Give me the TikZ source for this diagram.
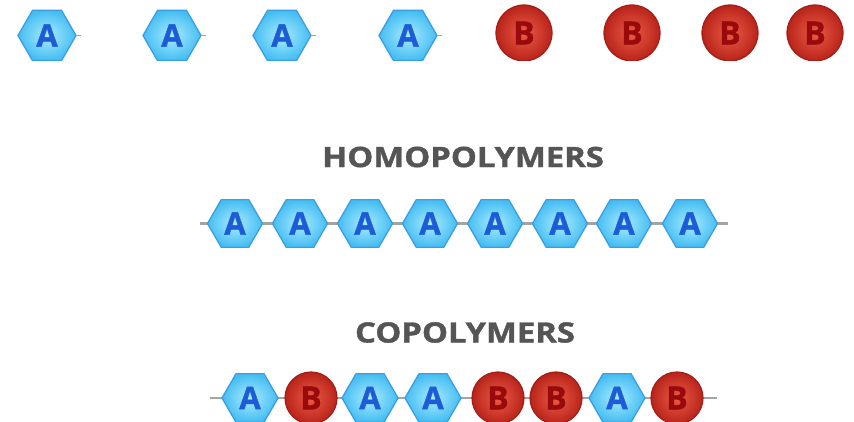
\documentclass[tikz,border=0pt]{standalone}
\usepackage{fontspec}
\setmainfont{Open Sans}
\newfontfamily\heavyfont{Open Sans Bold}[FakeBold=1.2]
\usetikzlibrary{shapes.geometric}

\definecolor{hexedge}{HTML}{3A9EE4}
\definecolor{hexin}{HTML}{A8ECFF}
\definecolor{hexout}{HTML}{45BDF2}
\definecolor{letterA}{HTML}{1D5CD6}
\definecolor{ballin}{HTML}{EE5A44}
\definecolor{ballout}{HTML}{B8241A}
\definecolor{balledge}{HTML}{A31E16}
\definecolor{letterB}{HTML}{980A0C}
\definecolor{bond}{HTML}{A4A4A4}
\definecolor{titlegrey}{HTML}{555555}

\tikzset{
  monoA/.style={regular polygon, regular polygon sides=6, minimum size=#1,
    inner sep=0pt, outer sep=0pt, draw=hexedge, line width=1.3pt,
    shading=radial, inner color=hexin, outer color=hexout,
    text=letterA, font=\heavyfont\fontsize{31}{31}\selectfont},
  monoA/.default=55pt,
  monoB/.style={circle, minimum size=#1, inner sep=0pt, outer sep=0pt,
    draw=balledge, line width=1.2pt,
    shading=radial, inner color=ballin, outer color=ballout,
    text=letterB, font=\heavyfont\fontsize{32}{32}\selectfont},
  monoB/.default=52pt,
  bondline/.style={draw=bond, line width=2.4pt},
  title/.style={text=titlegrey, font=\heavyfont\fontsize{28}{28}\selectfont, inner sep=0pt}
}

\begin{document}
\begin{tikzpicture}[x=1pt, y=-1pt]
  \useasboundingbox[fill=white] (0,0) rectangle (854,422);

  % free monomers
  \begin{scope}
    \clip (0,0) rectangle (854,61);
    \foreach \n/\x in {1/47, 2/172, 3/282, 4/408} {
      \node[monoA=58pt] (fa\n) at (\x,35.5) {A};
      \coordinate (fs\n) at ([xshift=5pt]fa\n.east);
      \draw[bondline, line width=1.6pt] (fa\n.east) -- (fs\n);
    }
    \foreach \n/\x in {1/524, 2/632, 3/730, 4/815}
      \node[monoB=56pt] (fb\n) at (\x,33) {B};
  \end{scope}

  % homopolymer chain
  \node[title] (homo) at (463,157) {\scalebox{1.17}[1]{HOMOPOLYMERS}};
  \coordinate (hl) at (200,223.5);
  \coordinate (hr) at (728,223.5);
  \draw[bondline] (hl) -- (hr);
  \foreach \n/\x in {1/235, 2/300, 3/365, 4/430, 5/495, 6/560, 7/624, 8/690}
    \node[monoA] (h\n) at (\x,223.5) {A};

  % copolymer chain
  \node[title] (co) at (465,332.5) {\scalebox{1.17}[1]{COPOLYMERS}};
  \coordinate (cl) at (210,398);
  \coordinate (cr) at (717,398);
  \draw[bondline] (cl) -- (cr);
  \node[monoA=56pt] (c1) at (250,398) {A};
  \node[monoB] (c2) at (311,398) {B};
  \node[monoA=56pt] (c3) at (370,398) {A};
  \node[monoA=56pt] (c4) at (433,398) {A};
  \node[monoB] (c5) at (498,398) {B};
  \node[monoB] (c6) at (556,398) {B};
  \node[monoA=56pt] (c7) at (617,398) {A};
  \node[monoB] (c8) at (677,398) {B};
\end{tikzpicture}
\end{document}
